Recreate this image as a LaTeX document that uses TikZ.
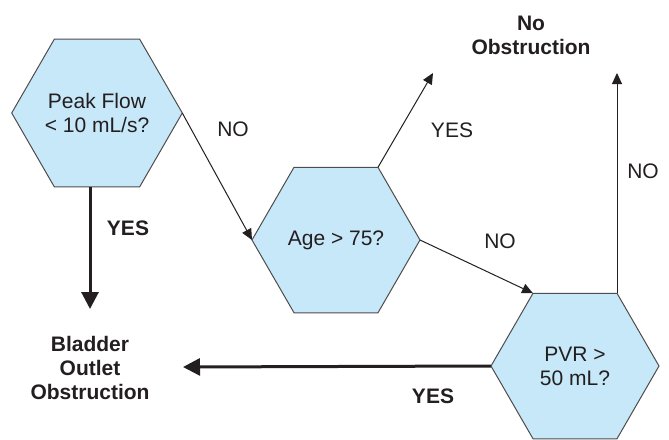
\documentclass[tikz,border=0pt]{standalone}
\usepackage{fontspec}
\setmainfont{Liberation Sans}
\usetikzlibrary{shapes.geometric,arrows.meta}
\definecolor{hexblue}{HTML}{C7E8F8}
\definecolor{ink}{HTML}{231F20}
\begin{document}
\begin{tikzpicture}[x=0.5pt, y=-0.5pt,
    hexa/.style={regular polygon, regular polygon sides=6, minimum size=84pt,
        inner sep=0pt, outer sep=0pt, fill=hexblue, draw=ink!80, line width=0.5pt,
        align=center, text=ink, font=\fontsize{10.5}{12}\selectfont},
    answer/.style={align=center, text=ink, font=\fontsize{10.5}{12}\selectfont\bfseries},
    lbl/.style={text=ink, font=\fontsize{10.5}{12}\selectfont},
    blbl/.style={text=ink, font=\fontsize{10.5}{12}\selectfont\bfseries},
    thin/.style={draw=ink, line width=0.5pt, -{Triangle[length=5.5pt,width=5pt]}},
    heavy/.style={draw=ink, line width=1.5pt, -{Triangle[length=8.5pt,width=8.5pt]}}]
    \useasboundingbox (0,0) rectangle (669,439);

    % decisions
    \node[hexa] (peak) at (97,113) {Peak Flow\\< 10 mL/s?};
    \node[hexa] (age) at (336,240) {Age > 75?};
    \node[hexa] (pvr) at (575,366) {PVR >\\50 mL?};

    % outcomes
    \node[answer] (noobs) at (531,35) {No\\Obstruction};
    \node[answer] (boo) at (90,368) {Bladder\\Outlet\\Obstruction};

    \coordinate (tipboo) at (90,309);
    \coordinate (tipside) at (183,367);
    \coordinate (tipyes) at (433,73);
    \coordinate (tipno) at (616,73);

    % connectors
    \draw[heavy] (peak.south -| tipboo) -- (tipboo);
    \draw[heavy] (pvr.180) -- (tipside);
    \draw[thin] (peak.0) -- (age.180);
    \draw[thin] (age.60) -- (tipyes);
    \draw[thin] (age.0) -- (pvr.120);
    \draw[thin] (pvr.60) -- (pvr.60 |- tipno);

    % branch labels
    \node[lbl] (peakno) at (233,129) {NO};
    \node[blbl] (peakyes) at (128,228) {YES};
    \node[lbl] (ageyes) at (452,130) {YES};
    \node[lbl] (ageno) at (500,241) {NO};
    \node[lbl] (pvrno) at (643,171) {NO};
    \node[blbl] (pvryes) at (433,396) {YES};
\end{tikzpicture}
\end{document}
